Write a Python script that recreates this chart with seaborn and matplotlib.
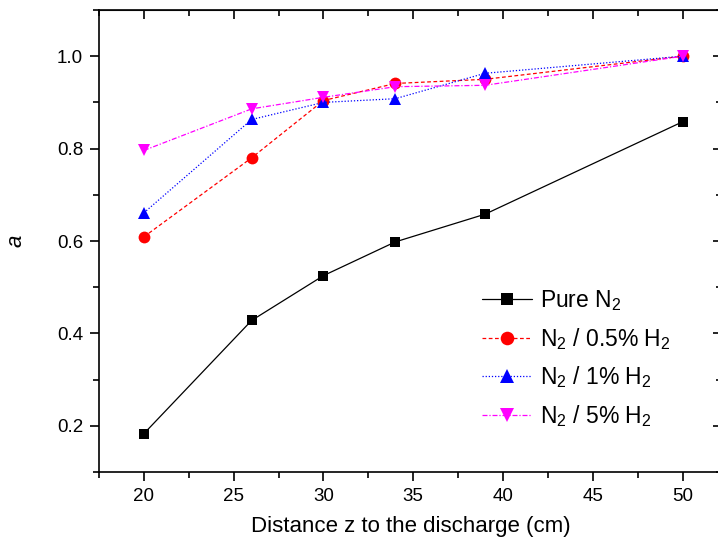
import numpy as np
import pandas as pd
import matplotlib
matplotlib.use("Agg")
import matplotlib.pyplot as plt
from matplotlib.ticker import MultipleLocator
import seaborn as sns

# Data
distance = [20, 26, 30, 34, 39, 50]
pure_n2 = [0.183, 0.428, 0.525, 0.598, 0.658, 0.858]
h2_05 = [0.609, 0.780, 0.904, 0.941, 0.950, 1.000]
h2_1 = [0.661, 0.863, 0.900, 0.908, 0.963, 1.000]
h2_5 = [0.796, 0.886, 0.911, 0.934, 0.937, 1.000]

series_labels = ["Pure N$_2$", "N$_2$ / 0.5% H$_2$", "N$_2$ / 1% H$_2$", "N$_2$ / 5% H$_2$"]

sns.set_style("ticks")
plt.rcParams['font.family'] = ['Liberation Sans', 'DejaVu Sans']
plt.rcParams['mathtext.fontset'] = 'custom'
plt.rcParams['mathtext.rm'] = 'Liberation Sans'
plt.rcParams['mathtext.it'] = 'Liberation Sans:italic'
plt.rcParams['text.color'] = 'black'
plt.rcParams['axes.labelcolor'] = 'black'
plt.rcParams['xtick.color'] = 'black'
plt.rcParams['ytick.color'] = 'black'

fig = plt.figure(figsize=(7.18, 5.47), dpi=100)
ax = fig.add_axes([99 / 718, 75 / 547, 623 / 718, 462 / 547])

styles = [
    (pure_n2, "black", "-", "s", 7.5),
    (h2_05, "red", (0, (3, 2)), "o", 8.5),
    (h2_1, "blue", (0, (1, 1.5)), "^", 9),
    (h2_5, "magenta", (0, (4, 1.5, 1, 1.5)), "v", 9),
]
for (vals, color, ls, mk, ms), label in zip(styles, series_labels):
    sns.lineplot(x=distance, y=vals, ax=ax, color=color, linestyle=ls,
                 linewidth=0.9, marker=mk, markersize=ms, markeredgewidth=0,
                 label=label)

ax.set_xlim(17.5, 52.2)
ax.set_ylim(0.1, 1.1)
ax.xaxis.set_major_locator(MultipleLocator(5))
ax.xaxis.set_minor_locator(MultipleLocator(2.5))
ax.yaxis.set_major_locator(MultipleLocator(0.2))
ax.yaxis.set_minor_locator(MultipleLocator(0.1))
ax.set_yticks([0.2, 0.4, 0.6, 0.8, 1.0])

for sp in ax.spines.values():
    sp.set_linewidth(1.2)
    sp.set_color('black')
    sp.set_visible(True)

ax.tick_params(which='major', direction='out', length=6.5, width=1.2, labelsize=13.5, pad=5)
ax.tick_params(which='minor', direction='out', length=4, width=1.2)

# inward ticks on top and right
top = ax.secondary_xaxis('top')
top.xaxis.set_major_locator(MultipleLocator(5))
top.xaxis.set_minor_locator(MultipleLocator(2.5))
top.tick_params(which='major', direction='in', length=6.5, width=1.2, labeltop=False)
top.tick_params(which='minor', direction='in', length=4, width=1.2)
right = ax.secondary_yaxis('right')
right.yaxis.set_major_locator(MultipleLocator(0.2))
right.yaxis.set_minor_locator(MultipleLocator(0.1))
right.tick_params(which='major', direction='in', length=6.5, width=1.2, labelright=False)
right.tick_params(which='minor', direction='in', length=4, width=1.2)

ax.set_xlabel("Distance z to the discharge (cm)", fontsize=16, labelpad=8)
ax.set_ylabel("a", fontsize=16, style='italic', labelpad=22)

ax.legend(loc='upper left', bbox_to_anchor=(0.581, 0.442), frameon=False,
          fontsize=16.5, numpoints=1, markerscale=1.15, handlelength=2.2,
          handletextpad=0.35, labelspacing=0.55)

fig.savefig("out.png", dpi=100)
